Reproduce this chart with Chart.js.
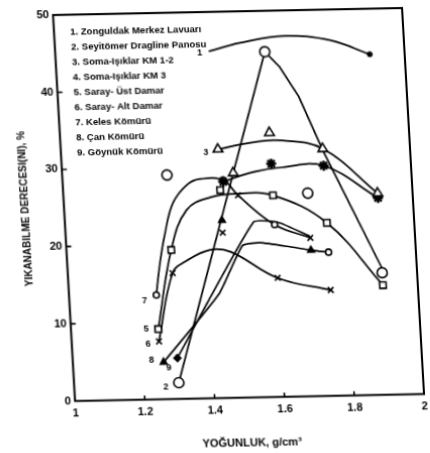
<!DOCTYPE html>
<html>
<head>
<meta charset="utf-8">
<script src="https://cdn.jsdelivr.net/npm/chart.js@4"></script>
<style>
  html, body { margin: 0; padding: 0; background: #fff; overflow: hidden; }
  #wrap { width: 430px; height: 453px; position: relative; overflow: hidden; }
  canvas { display: block; }
</style>
</head>
<body>
<div id="wrap"><canvas id="c" width="430" height="453"></canvas></div>
<script>
// Axis ticks
const densityTicks = [1, 1.2, 1.4, 1.6, 1.8, 2];
const densityTickLabels = ['1', '1.2', '1.4', '1.6', '1.8', '2'];
const washTicks = [0, 10, 20, 30, 40, 50];

// Coal seams, numbered as in the list on the plot
const seamNames = [
  'Zonguldak Merkez Lavuarı',
  'Seyitömer Dragline Panosu',
  'Soma-Işıklar KM 1-2',
  'Soma-Işıklar KM 3',
  'Saray- Üst Damar',
  'Saray- Alt Damar',
  'Keles Kömürü',
  'Çan Kömürü',
  'Göynük Kömürü'
];
const curveTags = ['1', '2', '3', '', '5', '6', '7', '8', '9'];

// [density g/cm3, washability %] — measured points
const zonguldakPts = [[1.90, 44.1]];
const seyitomerPts = [[1.30, 2.1], [1.60, 44.7], [1.90, 15.8], [1.30, 29.0], [1.70, 26.3]];
const somaKm12Pts = [[1.45, 32.2], [1.60, 34.2], [1.75, 32.0], [1.90, 26.1], [1.49, 29.1]];
const somaKm3Pts = [[1.46, 28.0], [1.60, 30.2], [1.75, 29.8], [1.90, 25.5]];
const sarayUstPts = [[1.25, 9.1], [1.30, 19.3], [1.45, 26.9], [1.60, 26.1], [1.75, 22.4], [1.90, 14.2]];
const sarayAltPts = [[1.25, 7.5], [1.30, 16.3], [1.60, 15.4], [1.75, 13.7], [1.45, 21.4], [1.50, 26.2], [1.70, 20.5]];
const kelesPts = [[1.25, 13.5], [1.46, 28.2], [1.60, 22.3], [1.75, 18.6]];
const canPts = [[1.26, 4.8], [1.45, 23.0], [1.70, 18.9]];
const goynukPts = [[1.30, 5.3]];

// [density g/cm3, washability %] — fitted curves
const zonguldakCurve = [[1.44, 44.9], [1.53, 45.9], [1.66, 46.7], [1.79, 46.0], [1.90, 44.1]];
const seyitomerCurve = [[1.30, 2.1], [1.60, 44.7], [1.64, 42.7], [1.69, 38.8], [1.75, 31.8], [1.90, 16.4]];
const somaKm12Curve = [[1.45, 32.2], [1.55, 33.0], [1.63, 33.2], [1.75, 32.0], [1.90, 26.1]];
const somaKm3Curve = [[1.46, 28.0], [1.55, 29.2], [1.63, 29.7], [1.75, 29.8], [1.90, 25.5]];
const sarayUstCurve = [[1.25, 9.1], [1.30, 19.3], [1.35, 24.4], [1.42, 26.0], [1.50, 26.4], [1.60, 26.1], [1.75, 22.4], [1.90, 14.2]];
const sarayAltCurve = [[1.25, 7.5], [1.30, 16.3], [1.34, 17.8], [1.41, 19.2], [1.47, 18.9], [1.60, 15.4], [1.75, 13.7]];
const kelesCurve = [[1.25, 13.5], [1.265, 17.5], [1.285, 21.5], [1.313, 25.4], [1.356, 27.7], [1.394, 28.4], [1.46, 28.2], [1.50, 26.2], [1.60, 22.3], [1.70, 20.5]];
const canCurve = [[1.26, 4.8], [1.43, 13.5], [1.505, 19.7], [1.555, 20.0], [1.64, 19.4], [1.70, 18.9], [1.75, 18.6]];
const goynukCurve = [[1.30, 5.3], [1.54, 22.7], [1.61, 22.6], [1.70, 20.7]];

const allPts = [zonguldakPts, seyitomerPts, somaKm12Pts, somaKm3Pts, sarayUstPts, sarayAltPts, kelesPts, canPts, goynukPts];
const allCurves = [zonguldakCurve, seyitomerCurve, somaKm12Curve, somaKm3Curve, sarayUstCurve, sarayAltCurve, kelesCurve, canCurve, goynukCurve];

const toXY = arr => arr.map(([x, y]) => ({ x, y }));

// marker look per seam
const markerStyle = [
  { pointStyle: 'circle', radius: 2.5, fill: '#000', bw: 1 },
  { pointStyle: 'circle', radius: 5, fill: '#fff', bw: 1.6 },
  { pointStyle: 'triangle', radius: 5.5, fill: '#fff', bw: 1.6 },
  { pointStyle: 'star', radius: 5, fill: '#000', bw: 2.4 },
  { pointStyle: 'rect', radius: 4.5, fill: '#fff', bw: 1.6 },
  { pointStyle: 'crossRot', radius: 4, fill: '#000', bw: 1.6 },
  { pointStyle: 'circle', radius: 3, fill: '#fff', bw: 1.6 },
  { pointStyle: 'triangle', radius: 4, fill: '#000', bw: 1.4 },
  { pointStyle: 'rectRot', radius: 3.5, fill: '#000', bw: 1.4 }
];
// polyline-like curves keep their sharp corners
const curveTension = [0.4, 0, 0.4, 0.4, 0.4, 0.4, 0.4, 0.15, 0.15];

const datasets = [];
allCurves.forEach((c, i) => {
  datasets.push({
    label: seamNames[i] + ' (eğri)',
    data: toXY(c),
    showLine: true,
    borderColor: '#000',
    borderWidth: 1.7,
    pointRadius: 0,
    tension: curveTension[i],
    order: 1
  });
});
allPts.forEach((p, i) => {
  const m = markerStyle[i];
  datasets.push({
    label: seamNames[i],
    data: toXY(p),
    showLine: false,
    pointStyle: m.pointStyle,
    pointRadius: m.radius,
    pointBorderWidth: m.bw,
    pointBorderColor: '#000',
    pointBackgroundColor: m.fill,
    order: 0
  });
});

const FONT = '"Liberation Sans", Arial, sans-serif';

// frame, inward tick marks, seam list and curve numbers
const plotNotes = {
  id: 'plotNotes',
  afterDraw(chart) {
    const { ctx, chartArea: a, scales: { x, y } } = chart;
    ctx.save();
    ctx.strokeStyle = '#000';
    ctx.fillStyle = '#000';
    ctx.lineWidth = 2;
    ctx.strokeRect(a.left, a.top, a.right - a.left, a.bottom - a.top);

    ctx.lineWidth = 1.6;
    ctx.beginPath();
    washTicks.slice(1, -1).forEach(v => {
      const py = y.getPixelForValue(v);
      ctx.moveTo(a.left, py); ctx.lineTo(a.left + 5, py);
    });
    densityTicks.slice(1, -1).forEach(v => {
      const px = x.getPixelForValue(v);
      ctx.moveTo(px, a.bottom); ctx.lineTo(px, a.bottom - 4);
    });
    ctx.stroke();

    ctx.font = 'bold 9.5px ' + FONT;
    ctx.textBaseline = 'middle';
    ctx.textAlign = 'left';
    seamNames.forEach((n, i) => {
      ctx.fillText((i + 1) + '. ' + n, a.left + 16, a.top + 17 + i * 15.1);
    });

    const tagOffsets = [[-9, 1], [-13, 4], [-12, 3], [0, 0], [-12, 0], [-11, 2], [-12, 5], [-12, -2], [-9, 10]];
    ctx.font = 'bold 9px ' + FONT;
    curveTags.forEach((t, i) => {
      if (!t) return;
      const [dx0, dy0] = allCurves[i][0];
      const px = x.getPixelForValue(dx0) + tagOffsets[i][0];
      const py = y.getPixelForValue(dy0) + tagOffsets[i][1];
      ctx.textAlign = 'center';
      ctx.fillText(t, px, py);
    });
    ctx.restore();
  }
};

const canvas = document.getElementById('c');
const chart = new Chart(canvas, {
  type: 'scatter',
  data: { datasets },
  options: {
    responsive: false,
    animation: false,
    devicePixelRatio: 1,
    layout: { padding: { left: 23, right: 17, top: 15, bottom: 0 } },
    plugins: { legend: { display: false }, tooltip: { enabled: false } },
    scales: {
      x: {
        type: 'linear', min: 1, max: 2,
        afterBuildTicks: ax => { ax.ticks = densityTicks.map(v => ({ value: v })); },
        ticks: {
          autoSkip: false, maxRotation: 0, padding: 6, color: '#000',
          font: { family: FONT, size: 11, weight: 'bold' },
          callback: (v) => densityTickLabels[densityTicks.indexOf(v)] ?? ''
        },
        grid: { display: false, drawTicks: false },
        border: { display: false },
        title: {
          display: true, text: 'YOĞUNLUK, g/cm³', color: '#000',
          font: { family: FONT, size: 11, weight: 'bold' },
          padding: { top: 14, bottom: 2 }
        }
      },
      y: {
        type: 'linear', min: 0, max: 50,
        afterBuildTicks: ax => { ax.ticks = washTicks.map(v => ({ value: v })); },
        ticks: {
          autoSkip: false, padding: 4, color: '#000',
          font: { family: FONT, size: 11, weight: 'bold' }
        },
        grid: { display: false, drawTicks: false },
        border: { display: false },
        title: {
          display: true, text: 'YIKANABILME DERECESI(NI), %', color: '#000',
          font: { family: FONT, size: 10, weight: 'bold' },
          padding: { top: 0, bottom: 12 }
        }
      }
    }
  },
  plugins: [plotNotes]
});

// the printed frame leans slightly: map the plot corners onto it
(function leanFrame() {
  const a = chart.chartArea;
  const BL = [75, 401], BR = [424, 394], TL = [53, 15];
  const w = a.right - a.left, h = a.top - a.bottom;
  const ma = (BR[0] - BL[0]) / w, mb = (BR[1] - BL[1]) / w;
  const mc = (TL[0] - BL[0]) / h, md = (TL[1] - BL[1]) / h;
  const me = BL[0] - ma * a.left - mc * a.bottom;
  const mf = BL[1] - mb * a.left - md * a.bottom;
  canvas.style.transformOrigin = '0 0';
  canvas.style.transform = `matrix(${ma},${mb},${mc},${md},${me},${mf})`;
})();
</script>
</body>
</html>
